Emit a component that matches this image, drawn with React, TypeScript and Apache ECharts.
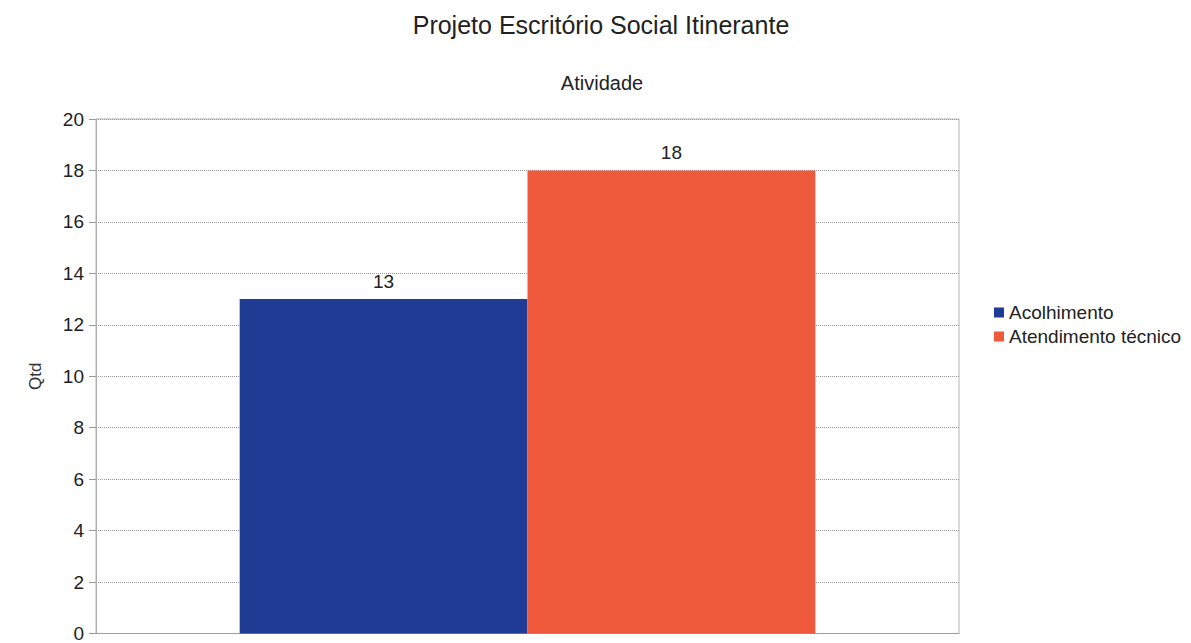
import React, { useEffect, useRef } from "react";
import * as echarts from "echarts";

const categories = [""];
const seriesNames = ["Acolhimento", "Atendimento técnico"];
const acolhimento = [13];
const atendimentoTecnico = [18];
const seriesColors = ["#1f3b93", "#ee5a3b"];

export default function App() {
  const ref = useRef<HTMLDivElement>(null);
  useEffect(() => {
    if (!ref.current) return;
    const chart = echarts.init(ref.current, undefined, { renderer: "svg" });
    const font = "Liberation Sans, Arial, sans-serif";
    chart.setOption({
      animation: false,
      backgroundColor: "#ffffff",
      textStyle: { fontFamily: font },
      title: [
        {
          text: "Projeto Escritório Social Itinerante",
          left: 596,
          textAlign: "center",
          top: 7,
          textStyle: { fontSize: 25, fontWeight: "normal", color: "#222", fontFamily: font },
        },
        {
          text: "Atividade",
          left: 597,
          textAlign: "center",
          top: 68,
          textStyle: { fontSize: 20, fontWeight: "normal", color: "#222", fontFamily: font },
        },
      ],
      legend: {
        orient: "vertical",
        left: 989,
        top: 298,
        itemWidth: 10,
        itemHeight: 10,
        itemGap: 5,
        icon: "rect",
        textStyle: { fontSize: 19, color: "#222", fontFamily: font },
        data: seriesNames,
      },
      grid: {
        left: 96,
        right: 232,
        top: 119,
        bottom: 7,
        show: true,
        borderColor: "#b5b5b5",
        borderWidth: 1,
      },
      xAxis: {
        type: "category",
        data: categories,
        axisLabel: { show: false },
        axisTick: { show: false },
        axisLine: { show: true, lineStyle: { color: "#999", type: "dotted" } },
      },
      yAxis: {
        type: "value",
        min: 0,
        max: 20,
        interval: 2,
        name: "Qtd",
        nameLocation: "middle",
        nameGap: 52,
        nameRotate: 90,
        nameTextStyle: { fontSize: 17, color: "#333", fontFamily: font },
        axisLine: { show: true, lineStyle: { color: "#aaa", type: "dotted" } },
        axisTick: { show: true, length: 7, lineStyle: { color: "#999" } },
        axisLabel: { fontSize: 19, color: "#222", margin: 12, fontFamily: font },
        splitLine: { show: true, lineStyle: { color: "#999", type: "dotted", width: 1 } },
      },
      series: [
        {
          name: seriesNames[0],
          type: "bar",
          data: acolhimento,
          barGap: "0%",
          barCategoryGap: "33.3%",
          itemStyle: { color: seriesColors[0] },
          label: { show: true, position: "top", distance: 8, fontSize: 19, color: "#222", fontFamily: font },
        },
        {
          name: seriesNames[1],
          type: "bar",
          data: atendimentoTecnico,
          barGap: "0%",
          barCategoryGap: "33.3%",
          itemStyle: { color: seriesColors[1] },
          label: { show: true, position: "top", distance: 8, fontSize: 19, color: "#222", fontFamily: font },
        },
      ],
    });
    return () => chart.dispose();
  }, []);
  return <div ref={ref} style={{ width: 1191, height: 643, position: "absolute", left: 0, top: 0 }} />;
}
